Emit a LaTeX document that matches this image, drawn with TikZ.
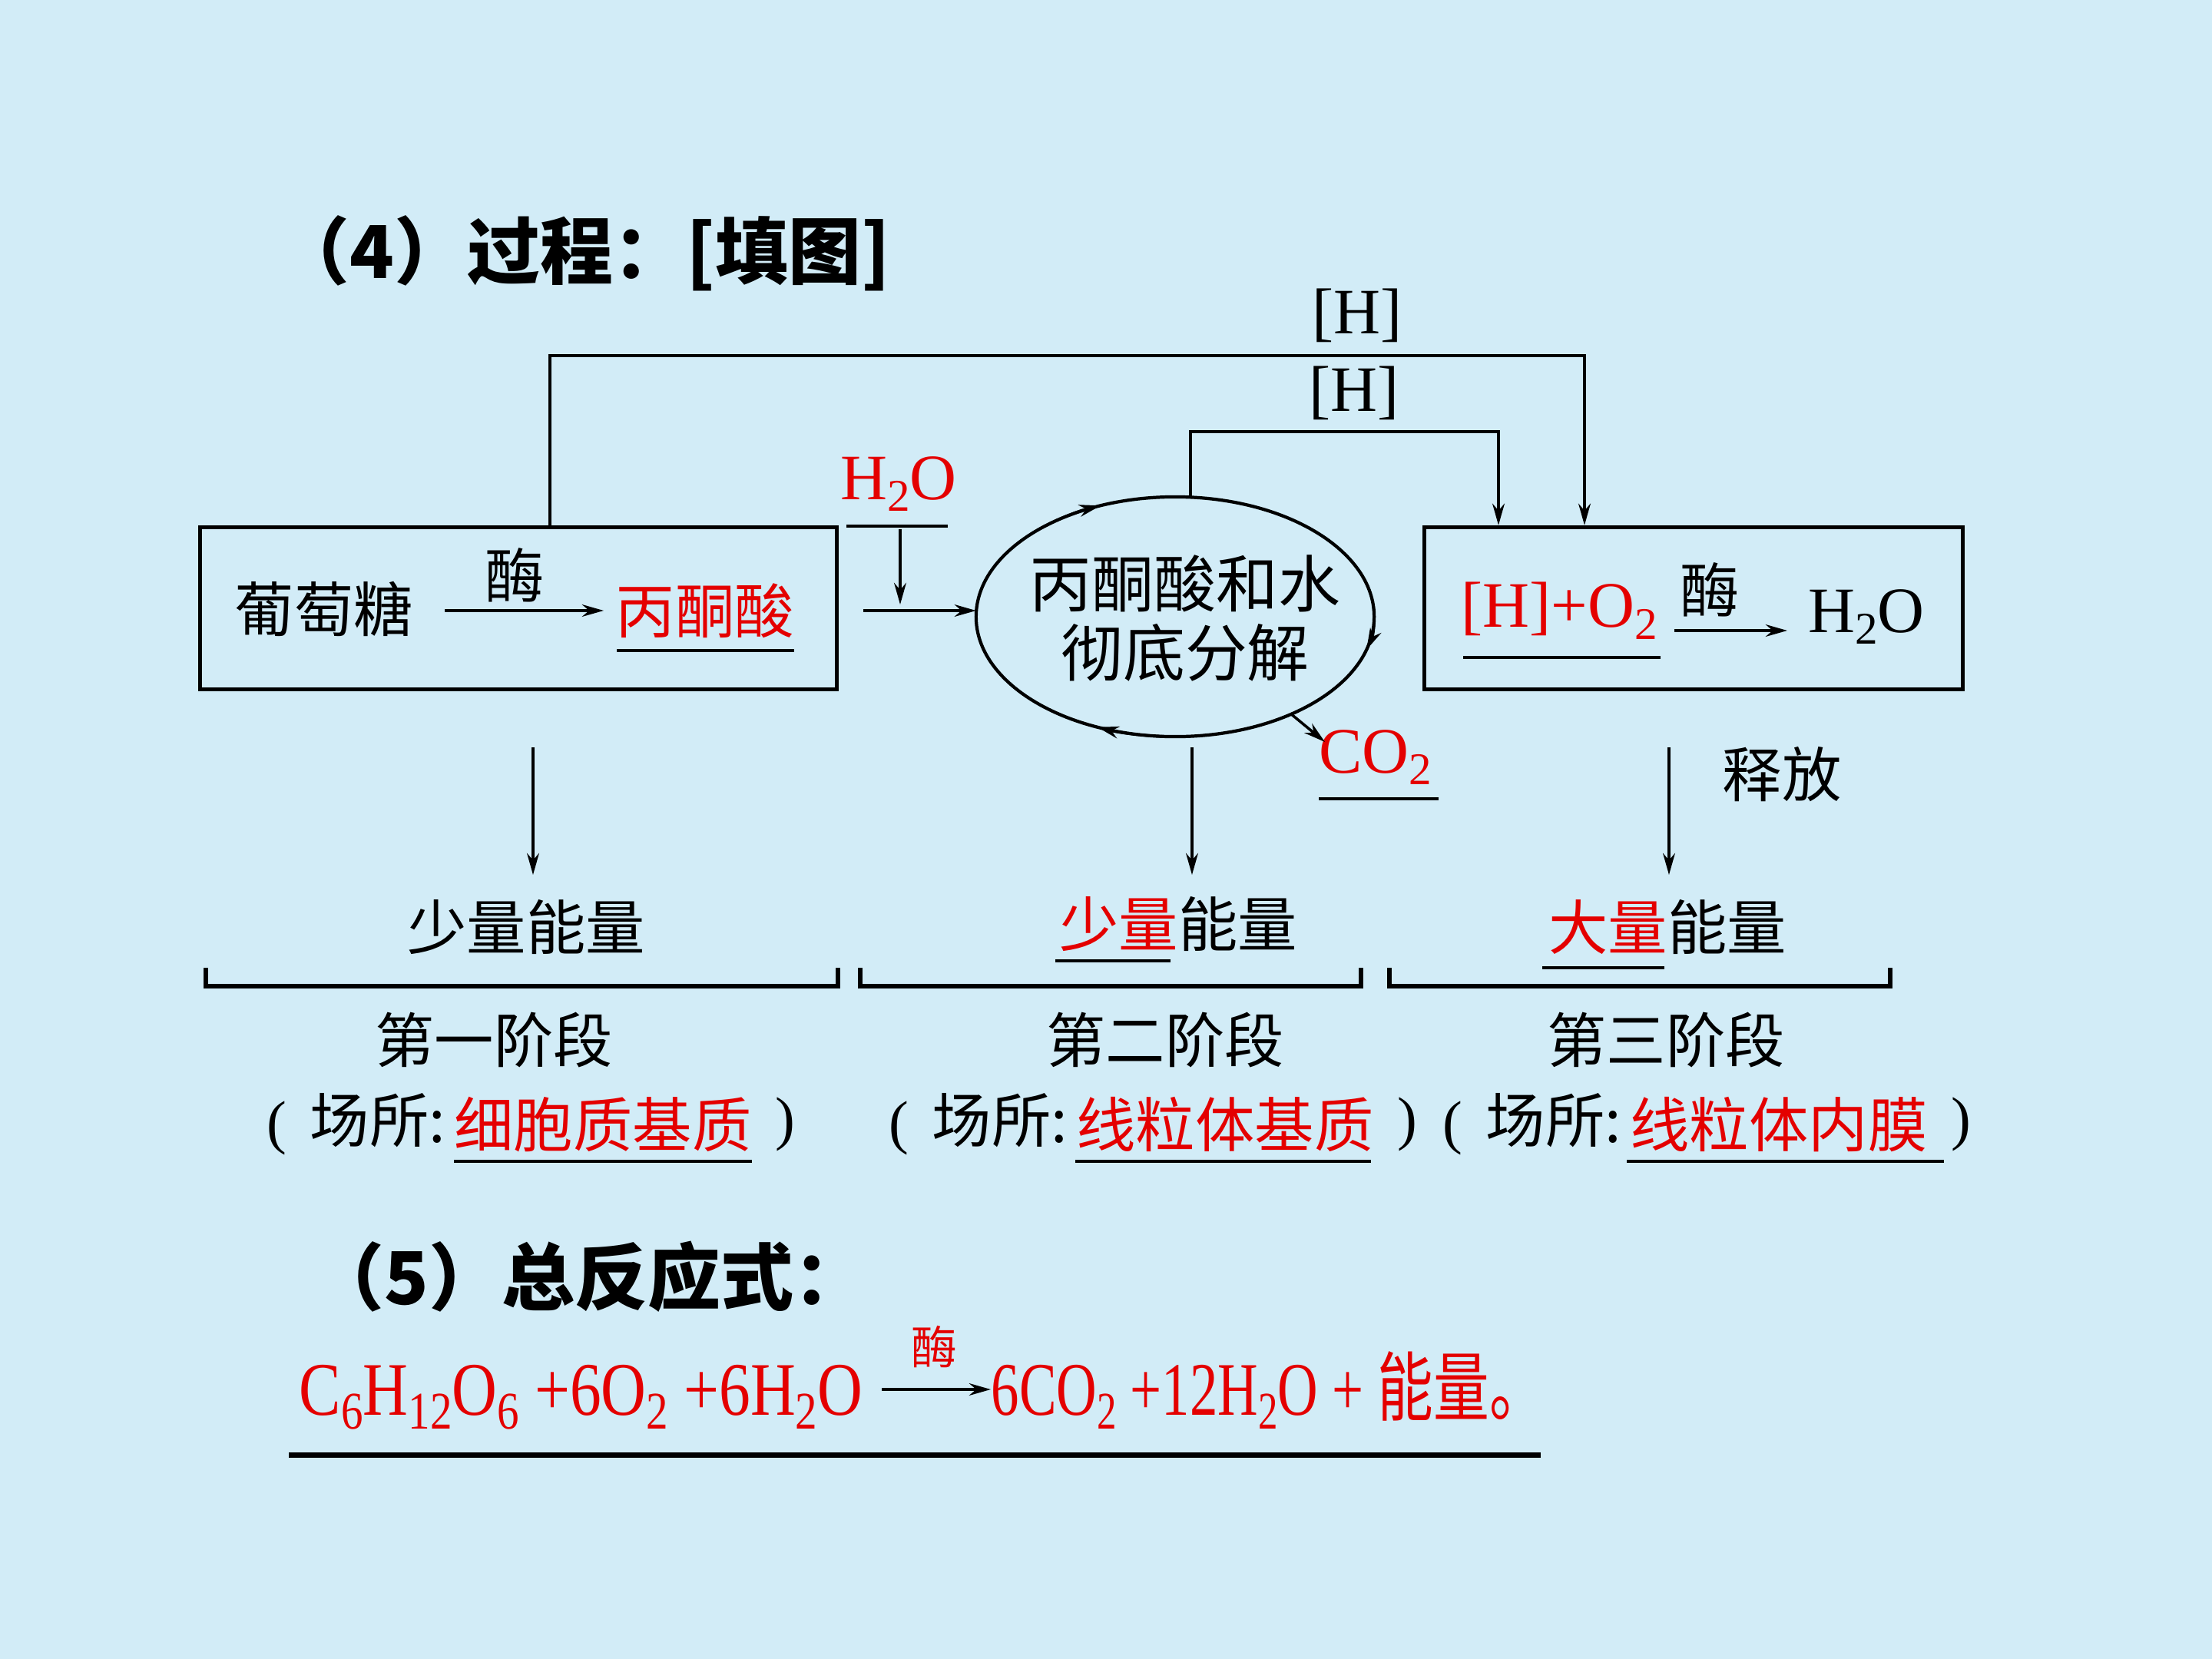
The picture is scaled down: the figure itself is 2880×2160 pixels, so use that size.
\documentclass[tikz,border=0pt]{standalone}
\usepackage{fontspec}
\usepackage{graphicx}
\setmainfont{Liberation Serif}
\newfontfamily\cjk{Noto Sans CJK SC}
\usetikzlibrary{positioning,shapes.geometric,calc,arrows.meta}

\definecolor{bgblue}{RGB}{210,236,247}
\definecolor{ansred}{RGB}{228,0,0}

\newcommand{\dn}[1]{\raisebox{-0.4ex}{\scalebox{0.7}{#1}}}
\newcommand{\opn}{{\rmfamily (}\hspace{0.4em}}
\newcommand{\cls}{{\rmfamily )}}

\tikzset{
  hz/.style={font=\fontsize{22}{26}\selectfont\cjk, inner sep=0pt},
  lat/.style={font=\fontsize{24}{28}\selectfont, inner sep=0pt},
  head/.style={font=\fontsize{27}{30}\selectfont\cjk\bfseries, inner sep=0pt, anchor=west},
  ans/.style={text=ansred},
  stagebox/.style={draw, line width=1.5pt, inner sep=0pt, minimum height=2.11cm},
  blank/.style={line width=1.2pt},
  brace/.style={line width=1.6pt},
  link/.style={line width=1pt, -{Stealth[length=8pt, width=4.5pt]}},
  eq/.style={text=ansred, font=\fontsize{28}{30}\selectfont, inner sep=0pt},
}

\begin{document}
\begin{tikzpicture}[x=0.01cm, y=-0.01cm]
\fill[bgblue] (0,0) rectangle (2880,2160);
\useasboundingbox (0,0) rectangle (2880,2160);

\node[head] (t4) at (360,330) {（4）过程：[填图]};

% the three stages
\node[stagebox, minimum width=8.28cm] (lbox) at (675,792) {};
\node[stagebox, minimum width=7cm] (rbox) at (2205,792) {};
\node[draw, ellipse, line width=1.2pt, minimum width=5.18cm, minimum height=3.12cm, inner sep=0pt, outer sep=0pt] (cyc) at (1530,803) {};
\node[hz, font=\fontsize{23}{25.6}\selectfont\cjk, align=center] (cyctxt) at (1543,805) {丙酮酸和水\\彻底分解};

\node[hz] (glc) at (422,793) {葡萄糖};
\node[hz, ans] (pyr) at (918,795) {丙酮酸};
\node[hz] (enz1) at (670,749) {酶};
\coordinate (a1) at (579,795);
\coordinate (a2) at (786,795);
\draw[link] (a1) -- (a2);
\draw[blank] (803,847) -- (1034,847);

\node[lat, ans] (hox) at (2030,795) {[H]+O\dn{2}};
\draw[blank] (1905,856) -- (2162,856);
\node[hz] (enz2) at (2226,768) {酶};
\coordinate (b1) at (2180,821);
\coordinate (b2) at (2327,821);
\draw[link] (b1) -- (b2);
\node[lat] (wout) at (2430,803) {H\dn{2}O};

% [H] paths
\coordinate (hup) at (2063,463);
\draw[link] ([xshift=0.41cm]lbox.north) |- (hup) -- (hup |- rbox.north);
\node[lat] (hl1) at (1767,411) {[H]};
\coordinate (hmid) at (1951,562);
\draw[link] ([xshift=0.2cm]cyc.north) |- (hmid) -- (hmid |- rbox.north);
\node[lat] (hl2) at (1763,512) {[H]};

% water in, CO2 out
\node[lat, ans] (win) at (1170,630) {H\dn{2}O};
\draw[blank] (1102,685) -- (1234,685);
\coordinate (wl) at (1124,795);
\coordinate (wtop) at (1172,689);
\draw[link] (wl) -- (wl -| cyc.west);
\draw[link] (wtop) -- ([yshift=0.08cm]wtop |- wl);
\foreach \s/\e in {132/112, 4/-16, 267/247}
  \draw[link] ($(cyc.center)+(\s:2.59cm and 1.56cm)$) arc[start angle=\s, end angle=\e, x radius=2.59cm, y radius=1.56cm];
\node[lat, ans] (co2) at (1791,986) {CO\dn{2}};
\coordinate (co2tip) at (1725,966);
\draw[link] (cyc.-40) -- (co2tip);
\draw[blank] (1717,1040) -- (1873,1040);

% energy
\coordinate (d1) at (694,973);
\coordinate (d2) at (1552,973);
\coordinate (d3) at (2173,973);
\draw[link] (d1) -- ++(0,166);
\draw[link] (d2) -- ++(0,166);
\draw[link] (d3) -- ++(0,166);
\node[hz] (rel) at (2320,1008) {释放};

\node[hz] (e1) at (685,1207) {少量能量};
\node[hz] (e2) at (1534,1203) {{\color{ansred}少量}能量};
\node[hz] (e3) at (2171,1207) {{\color{ansred}大量}能量};
\draw[blank] (1374,1251) -- (1524,1251);
\draw[blank] (2008,1260) -- (2167,1260);

\draw[brace] (268,1260) |- (1091,1284) -- (1091,1260);
\draw[brace] (1120,1260) |- (1772,1284) -- (1772,1260);
\draw[brace] (1809,1260) |- (2461,1284) -- (2461,1260);

\node[hz] (s1) at (643,1354) {第一阶段};
\node[hz] (s2) at (1517,1354) {第二阶段};
\node[hz] (s3) at (2169,1354) {第三阶段};

\node[hz, ans] (p1) at (785,1464) {细胞质基质};
\node[hz, left=0.1cm of p1] (q1) {\opn 场所:};
\node[hz, right=0.3cm of p1] (r1) {\cls};
\node[hz, ans] (p2) at (1595,1464) {线粒体基质};
\node[hz, left=0.1cm of p2] (q2) {\opn 场所:};
\node[hz, right=0.3cm of p2] (r2) {\cls};
\node[hz, ans] (p3) at (2316,1464) {线粒体内膜};
\node[hz, left=0.1cm of p3] (q3) {\opn 场所:};
\node[hz, right=0.3cm of p3] (r3) {\cls};
\draw[blank] (591,1512) -- (979,1512);
\draw[blank] (1400,1512) -- (1785,1512);
\draw[blank] (2118,1512) -- (2531,1512);

% overall equation
\node[head] (t5) at (405,1662) {（5）总反应式：};
\node[eq, anchor=base east] (eqL) at (1124,1842) {\resizebox{7.33cm}{\height}{C\dn{6}H\dn{12}O\dn{6} +6O\dn{2} +6H\dn{2}O}};
\node[eq, anchor=base west] (eqR) at (1290,1842) {\resizebox{7.21cm}{\height}{6CO\dn{2} +12H\dn{2}O + {\cjk 能量。}}};
\coordinate (fa1) at (1148,1809);
\coordinate (fa2) at (1290,1809);
\draw[link] (fa1) -- (fa2);
\node[hz, ans, font=\fontsize{17}{20}\selectfont\cjk] (enz3) at (1216,1754) {酶};
\draw[line width=2pt] (376,1894) -- (2006,1894);
\end{tikzpicture}
\end{document}
